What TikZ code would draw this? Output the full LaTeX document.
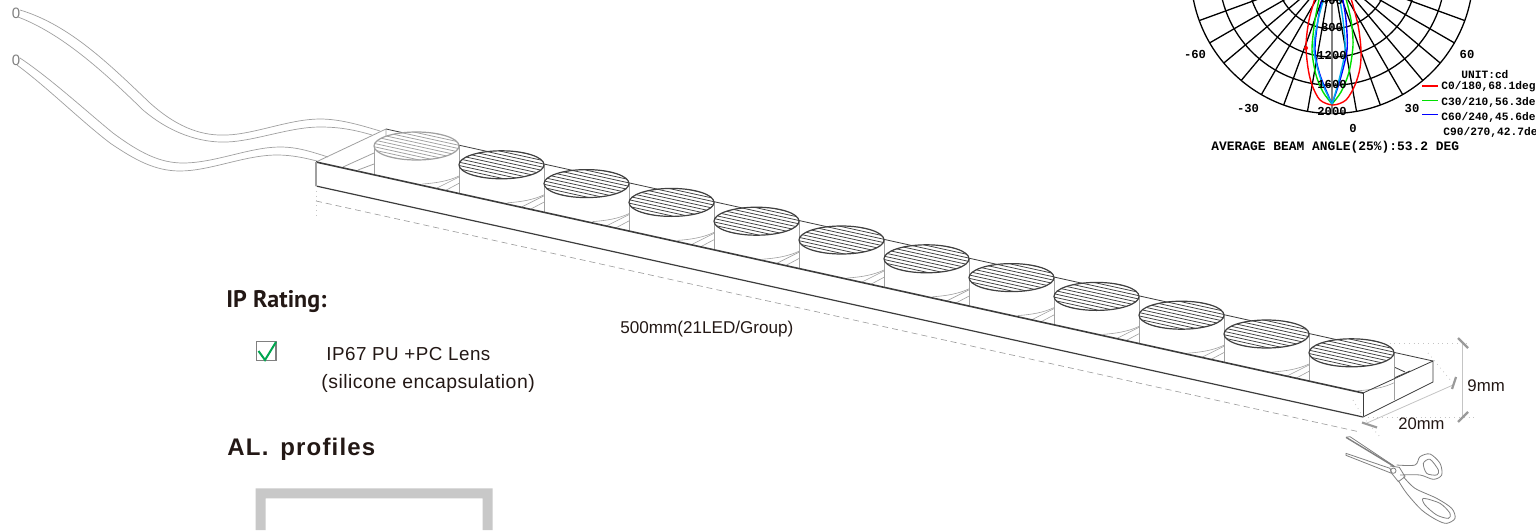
\documentclass[tikz,border=0pt]{standalone}
\usepackage{fontspec}
\setmainfont{Liberation Sans}
\setmonofont{Liberation Mono}
\newfontfamily\ipfont{PT Sans}
\newfontfamily\alfont{Liberation Sans}[LetterSpace=5,WordSpace=1.5]
\newfontfamily\bodyfont{Liberation Sans}[LetterSpace=2.5]
\definecolor{inkd}{HTML}{231815}
\definecolor{wireg}{HTML}{A0A0A0}
\definecolor{boxd}{HTML}{3C3C3C}
\definecolor{lensd}{HTML}{404040}
\definecolor{lensl}{HTML}{A0A0A0}
\definecolor{dimg}{HTML}{9A9A9A}
\definecolor{dotg}{HTML}{C4C4C4}
\definecolor{profg}{HTML}{C8C8C8}
\definecolor{chkg}{HTML}{00A650}
\definecolor{brightg}{HTML}{00E000}
\tikzset{
  wire/.style={draw=wireg,line width=0.35pt},
  edgeline/.style={draw=boxd,line width=0.4pt},
  edgelight/.style={draw=wireg,line width=0.4pt},
  edgeheavy/.style={draw=boxd,line width=0.8pt},
  dimline/.style={draw=dimg,line width=0.35pt},
  dimtick/.style={draw=dimg,line width=1.1pt},
  dotline/.style={draw=dotg,line width=0.4pt,dotted},
  dashline/.style={draw=dimg,line width=0.3pt,dash pattern=on 3pt off 2pt},
  monolabel/.style={font=\ttfamily\bfseries\fontsize{6.1}{7}\selectfont,inner sep=0pt,text=black},
  smalllabel/.style={font=\ttfamily\bfseries\fontsize{5.6}{7}\selectfont,inner sep=0pt,text=black,anchor=west},
  sanstext/.style={inner sep=0pt,text=inkd,anchor=west},
  polarline/.style={draw=black,line width=0.65pt},
  curve/.style={line width=0.7pt},
  scis/.style={draw=gray,line width=0.4pt,line join=round},
}
\begin{document}
\begin{tikzpicture}[x=0.5pt,y=-0.5pt]
\useasboundingbox (0,0) rectangle (1536,530);
\fill[white] (0,0) rectangle (1536,530);

% ---- polar diagram
\begin{scope}
\clip (0,0) rectangle (1536,530);
\foreach \a in {-70,-60,...,-10,10,20,...,70}
  \draw[polarline] (1332,-27.75) -- ({1332+141.25*sin(\a)},{-27.75+141.25*cos(\a)});
\foreach \r in {28.25,56.5,84.75,113,141.25}
  \draw[polarline] (1332,-27.75) circle (\r);
\draw[draw=gray,line width=0.9pt] (1332,-27.75) -- (1332,113.5);
% curves
\draw[red,curve] plot[smooth] coordinates {(1316,-5)(1309,20)(1306,45)(1308,68)(1312,85)(1320,100)(1333,105)(1346,100)(1355,85)(1360,68)(1361,50)(1358,25)(1350,-5)};
\fill[red] (1306,48) circle (2);
\draw[brightg,curve] plot[smooth] coordinates {(1320,-5)(1315,20)(1312,50)(1316,75)(1323,92)(1332,104)};
\draw[brightg,curve] plot[smooth] coordinates {(1332,104)(1341,92)(1349,72)(1353,45)(1351,20)(1345,-5)};
\draw[blue,curve] plot[smooth] coordinates {(1323,-5)(1318,20)(1315,50)(1320,75)(1332,104)};
\draw[blue,curve] plot[smooth] coordinates {(1332,104)(1340,80)(1347,50)(1346,20)(1342,-5)};
\draw[cyan,curve] plot[smooth] coordinates {(1325,-5)(1318,20)(1314,50)(1321,80)(1332,104)};
\draw[cyan,curve] plot[smooth] coordinates {(1332,104)(1339,80)(1345,50)(1343,20)(1339,-5)};
\node[monolabel] (r400) at (1332,0) {400};
\node[monolabel] (r800) at (1332,27) {800};
\node[monolabel] (r1200) at (1332,55) {1200};
\node[monolabel] (r1600) at (1332,84) {1600};
\node[monolabel] (r2000) at (1332,111) {2000};
\node[monolabel] (am60) at (1195,54) {-60};
\node[monolabel] (ap60) at (1467,54) {60};
\node[monolabel] (am30) at (1248,108) {-30};
\node[monolabel] (ap30) at (1412,108) {30};
\node[monolabel] (a0) at (1353,128) {0};
\node[smalllabel] (unit) at (1461,74) {UNIT:cd};
\node[smalllabel] (c0) at (1441,87) {C0/180,68.1deg};
\node[smalllabel] (c30) at (1441,102.5) {C30/210,56.3de};
\node[smalllabel] (c60) at (1441,117) {C60/240,45.6de};
\node[smalllabel] (c90) at (1443,132) {C90/270,42.7de};
\node[monolabel,anchor=west,font=\ttfamily\bfseries\fontsize{6.45}{8}\selectfont] (avg) at (1211,147) {AVERAGE BEAM ANGLE(25\%):53.2 DEG};
\end{scope}
\draw[red,line width=1pt] (1422,86) -- (1438,86);
\draw[brightg,line width=0.5pt] (1422,100) -- (1438,100);
\draw[blue,line width=0.5pt] (1422,114) -- (1438,114);

% ---- wires
\draw[wire] (20,10) .. controls (70,25) and (110,65) .. (150,103) .. controls (180,130) and (205,136) .. (227,135) .. controls (255,134) and (290,119) .. (320,119) .. controls (340,119) and (360,125) .. (380,131);
\draw[wire] (18,17) .. controls (60,33) and (100,68) .. (143,110) .. controls (170,133) and (200,143) .. (227,142) .. controls (255,141) and (290,127) .. (320,127) .. controls (340,127) and (355,130) .. (372,135);
\draw[wire] (20,58) .. controls (50,78) and (85,110) .. (113,133) .. controls (140,153) and (160,163) .. (183,163) .. controls (215,163) and (250,147) .. (280,147) .. controls (298,147) and (312,152) .. (328,157);
\draw[wire] (17,65) .. controls (48,88) and (80,120) .. (110,143) .. controls (135,160) and (155,171) .. (180,171) .. controls (210,171) and (245,155) .. (277,155) .. controls (292,155) and (305,158) .. (317,161);
\node[inner sep=0pt,text=gray,font=\fontsize{7.5}{8}\selectfont] (w1) at (16,13) {0};
\node[inner sep=0pt,text=gray,font=\fontsize{7.5}{8}\selectfont] (w2) at (16,60.5) {0};

% ---- tray back and floor
\draw[edgeline] (386,129) -- (1433,361);
\draw[edgelight] (316,162) -- (386,129) -- (386,140);
\draw[edgelight] (343,167) -- (374,153);
\draw[edgelight] (358,170) -- (374,164);
\draw[edgeline] (1394,367) -- (1405,372);
\draw[edgeline] (1394,378) -- (1410,371);

% ---- lenses
\foreach \i in {0,...,11}{
  \pgfmathsetmacro{\cx}{416.5+85*\i}
  \pgfmathsetmacro{\cy}{146+18.8*\i}
  \pgfmathsetmacro{\xl}{\cx-42.5}
  \pgfmathsetmacro{\xr}{\cx+42.5}
  \pgfmathsetmacro{\fl}{162+(\xl-316)*0.2204}
  \pgfmathsetmacro{\fr}{162+(\xr-316)*0.2204}
  \ifnum\i=0 \colorlet{lenscol}{lensl}\else\colorlet{lenscol}{lensd}\fi
  \fill[white] (\xl,\cy) -- (\xr,\cy) -- (\xr,\fr) -- (\xl,\fl) -- cycle;
  \draw[draw=wireg,line width=0.4pt] (\xl,\cy) -- (\xl,\fl);
  \draw[draw=wireg,line width=0.4pt] (\xr,\cy) -- (\xr,\fr);
  \draw[draw=wireg,line width=0.3pt] (\xr,\cy+30) .. controls (\cx+32,\cy+35) and (\cx+20,\cy+37) .. (\cx+6,\cy+38);
  \ifnum\i<11
    \draw[draw=wireg,line width=0.3pt] (\cx+20.5,\cy+42) -- (\xr,\cy+31);
    \draw[draw=wireg,line width=0.3pt] (\cx+28.5,\cy+44.7) -- (\xr,\cy+37.3);
  \fi
  \fill[white] (\cx,\cy) ellipse (42.5 and 14);
  \begin{scope}
    \clip (\cx,\cy) ellipse (42.5 and 14);
    \foreach \k in {-6,...,6}
      \draw[draw=lenscol,line width=0.38pt] (\cx-50,\cy+3.35*\k-11) -- (\cx+50,\cy+3.35*\k+11);
  \end{scope}
  \draw[draw=lenscol,line width=0.6pt] (\cx,\cy) ellipse (42.5 and 14);
}

% ---- tray front
\draw[edgeheavy] (316,162) -- (1363,393);
\draw[edgeline,line width=0.6pt] (316,186) -- (1363,417);
\draw[edgelight,line width=0.6pt] (316,162) -- (316,186);
\draw[edgeline] (1363,393) -- (1363,417);
\draw[edgeline] (1363,393) -- (1433,361) -- (1433,382) -- (1363,417);

% ---- dimension marks
\draw[dashline] (316,201) -- (1360,432);
\draw[dotline] (316,186) -- (316,217);
\draw[dotline] (1363,417) -- (1380,437);
\draw[dotline] (1353,400) -- (1363,417);
\draw[dotline] (1380,343) -- (1467,343);
\draw[dotline] (1363,417) -- (1477,417);
\draw[dotline] (1428,353) -- (1452,382);
\draw[draw=dotg,line width=0.4pt] (1462,343) -- (1462,417);
\draw[dimtick] (1458,338) -- (1468,348);
\draw[dimtick] (1458,422) -- (1468,412);
\draw[draw=dotg,line width=0.4pt] (1367,423) -- (1453,385);
\draw[dimtick] (1362,422.5) -- (1377,427.5);
\draw[dimtick] (1452,389) -- (1456,377);
\node[sanstext,font=\fontsize{8.4}{10}\selectfont] (d9) at (1467,386) {9mm};
\node[sanstext,font=\fontsize{8.3}{10}\selectfont] (d20) at (1398,424) {20mm};
\node[sanstext,font=\fontsize{8.55}{10}\selectfont] (dlen) at (620,329) {500mm(21LED/Group)};

% ---- scissors
\begin{scope}[shift={(1340,430)},x=0.1667pt,y=-0.1667pt]
\draw[scis,line width=0.7pt] (18,22) -- (160,108);
\draw[scis] (18,22) -- (30,20) -- (165,110);
\draw[scis] (18,70) -- (150,115) -- (155,130) -- (18,76) -- cycle;
\draw[scis] (150,108) -- (178,112) -- (195,140) -- (175,155) -- (155,130);
\draw[scis] (160,122) circle (8);
\draw[scis] plot[smooth] coordinates {(170,105)(225,105)(240,80)(270,72)(300,100)(305,135)(280,148)(240,135)(180,135)};
\draw[scis] plot[smooth cycle] coordinates {(250,100)(270,88)(295,120)(290,135)(260,130)};
\draw[scis] plot[smooth] coordinates {(190,140)(225,175)(290,205)(335,235)(345,265)(320,280)(290,270)(245,240)(200,190)(175,152)};
\draw[scis] plot[smooth cycle] coordinates {(250,205)(300,220)(330,250)(325,265)(290,255)(255,225)};
\end{scope}

% ---- left texts
\node[sanstext,font=\ipfont\bfseries\fontsize{12}{14}\selectfont] (ip) at (226,302) {IP Rating:};
\draw[draw=gray,line width=0.7pt] (256.5,341.5) rectangle (276,360.5);
\draw[draw=chkg,line width=1pt] (258.5,351) -- (265,360) -- (276,342);
\node[sanstext,font=\bodyfont\fontsize{9.4}{11}\selectfont] (ip67) at (326,354) {IP67 PU +PC Lens};
\node[sanstext,font=\bodyfont\fontsize{9.7}{11}\selectfont] (sil) at (321,383) {(silicone encapsulation)};
\node[sanstext,font=\alfont\bfseries\fontsize{12}{14}\selectfont] (al) at (227,449) {AL. profiles};
\fill[profg] (255.7,530) -- (255.7,488.3) -- (492.7,488.3) -- (492.7,530) -- (482.7,530) -- (482.7,498.3) -- (265.7,498.3) -- (265.7,530) -- cycle;
\end{tikzpicture}
\end{document}
